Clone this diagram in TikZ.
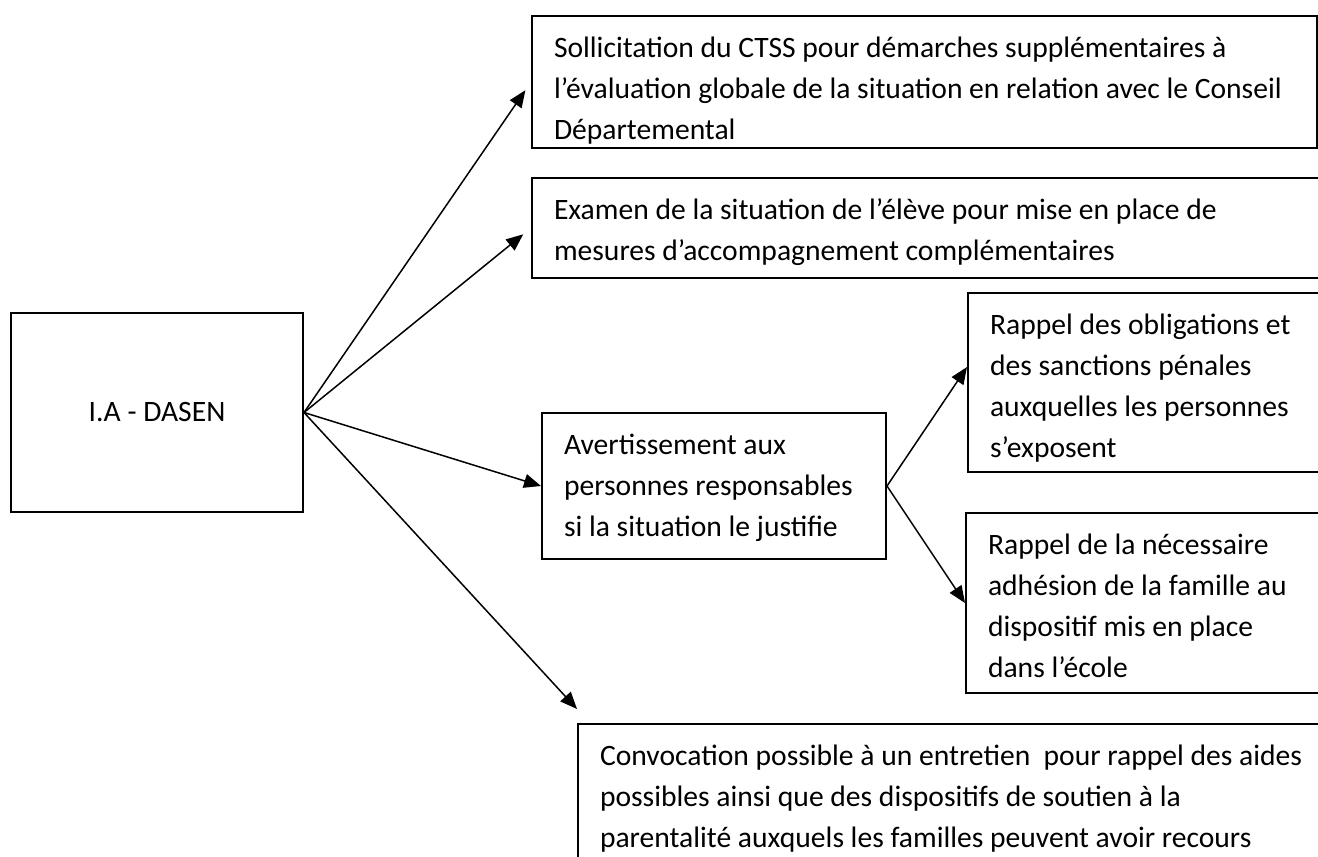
\documentclass[tikz,border=0pt]{standalone}
\usepackage{fontspec}
\setmainfont{Carlito}
\usetikzlibrary{arrows.meta}

\newcommand{\boxfont}{\fontsize{14.8}{20.5}\selectfont}

\tikzset{
  textbox/.style={draw, line width=1pt, anchor=north west, align=flush left,
    inner xsep=11pt, inner ysep=0pt, text height=20.5pt, font=\boxfont},
  link/.style={->, line width=0.75pt}
}

\begin{document}
\begin{tikzpicture}[x=0.5pt, y=-0.5pt, >={Triangle[length=8.5pt,width=7pt]}]
  \useasboundingbox (0,0) rectangle (1318,857);

  \node [draw, line width=1pt, minimum width=146pt, minimum height=99.5pt, font=\boxfont] (dasen) at (157,412.5) {I.A - DASEN};

  \node [textbox, text width=370.5pt, text depth=45.5pt] (ctss) at (531,15)
    {Sollicitation du CTSS pour démarches supplémentaires à\\
     \mbox{l’évaluation globale de la situation en relation avec le Conseil}\\
     Départemental};
  \node [textbox, text width=380pt, text depth=29.5pt] (examen) at (531,177)
    {Examen de la situation de l’élève pour mise en place de\\
     mesures d’accompagnement complémentaires};
  \node [textbox, text width=150pt, text depth=52.5pt] (avert) at (541,412)
    {Avertissement aux\\
     personnes responsables\\
     si la situation le justifie};
  \node [textbox, text width=165pt, text depth=69pt] (oblig) at (967,292)
    {Rappel des obligations et\\
     des sanctions pénales\\
     auxquelles les personnes\\
     s’exposent};
  \node [textbox, text width=165pt, text depth=69.5pt] (adhes) at (965,512)
    {Rappel de la nécessaire\\
     adhésion de la famille au\\
     dispositif mis en place\\
     dans l’école};
  \node [textbox, text width=370pt, text depth=60pt] (convoc) at (577,723)
    {Convocation possible à un entretien~ pour rappel des aides\\
     possibles ainsi que des dispositifs de soutien à la\\
     parentalité auxquels les familles peuvent avoir recours};

  % arrows from the I.A - DASEN box
  \draw [link, shorten >=5pt] (dasen.east) -- (ctss.west);
  \draw [link, shorten >=5pt] (dasen.east) -- (examen.west);
  \draw [link] (dasen.east) -- (avert.west);
  \draw [link] (dasen.east) -- ([yshift=7pt]convoc.north west);

  % arrows from the warning box
  \draw [link] (avert.east) -- ([yshift=7.75pt]oblig.west);
  \draw [link] (avert.east) -- (adhes.west);
\end{tikzpicture}
\end{document}
